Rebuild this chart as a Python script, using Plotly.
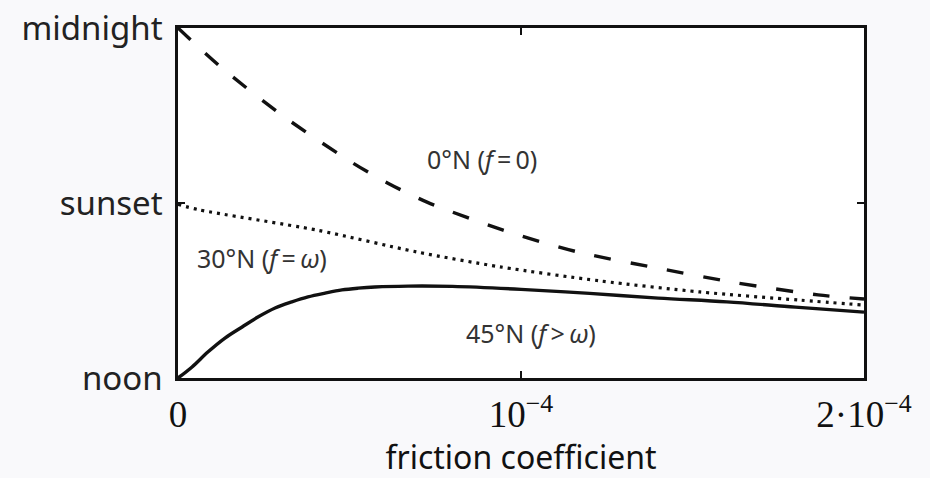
import plotly.graph_objects as go

# Friction coefficient in units of 1e-4 (converted when plotting)
fric_dash = [0.0, 0.128, 0.315, 0.510, 0.612, 0.726, 0.948, 1.166, 1.397, 1.630, 1.866, 2.0]
phase_0N = [12.0, 10.63, 8.91, 7.37, 6.68, 6.03, 5.07, 4.32, 3.77, 3.26, 2.85, 2.71]

fric_dot = [0.0, 0.064, 0.405, 0.697, 0.939, 1.230, 1.522, 1.813, 2.0]
phase_30N = [5.95, 5.76, 5.07, 4.32, 3.81, 3.33, 2.95, 2.67, 2.50]

fric_solid = [0.0, 0.041, 0.087, 0.137, 0.187, 0.233, 0.283, 0.332, 0.379, 0.429, 0.478,
              0.525, 0.574, 0.671, 0.8, 1.0, 1.2, 1.4, 1.6, 1.8, 2.0]
phase_45N = [0.0, 0.38, 0.89, 1.37, 1.75, 2.09, 2.40, 2.61, 2.78, 2.91, 3.02,
             3.08, 3.12, 3.15, 3.14, 3.04, 2.90, 2.74, 2.61, 2.43, 2.26]

# Phase of the response, hours after noon
y_tickvals = [0, 6, 12]
y_ticktext = ["noon", "sunset", "midnight"]
x_tickvals = [0, 1e-4, 2e-4]
x_ticktext = ["0", "10<sup>\u22124</sup>", "2\u00b710<sup>\u22124</sup>"]

scale = 1e-4
fig = go.Figure()
fig.add_trace(go.Scatter(
    x=[v * scale for v in fric_dash], y=phase_0N, mode="lines",
    line=dict(color="#111", width=3.4, dash="17px,20px", shape="spline", smoothing=0.8),
))
fig.add_trace(go.Scatter(
    x=[v * scale for v in fric_dot], y=phase_30N, mode="lines",
    line=dict(color="#111", width=3.2, dash="3px,5px", shape="spline", smoothing=0.8),
))
fig.add_trace(go.Scatter(
    x=[v * scale for v in fric_solid], y=phase_45N, mode="lines",
    line=dict(color="#111", width=3.4, shape="spline", smoothing=1.0),
))

label_font = dict(family="Noto Sans, Open Sans, sans-serif", size=25, color="#333")
fig.add_annotation(x=0.886e-4, y=7.5, text="0\u00b0N (<i>f</i>\u2009=\u20090)",
                   showarrow=False, font=label_font)
fig.add_annotation(x=0.245e-4, y=4.1, text="30\u00b0N (<i>f</i>\u2009=\u2009<i>\u03c9</i>)",
                   showarrow=False, font=label_font)
fig.add_annotation(x=1.03e-4, y=1.54, text="45\u00b0N (<i>f</i>\u2009&gt;\u2009<i>\u03c9</i>)",
                   showarrow=False, font=label_font)

axis_common = dict(
    showline=True, linecolor="#111", linewidth=2.5, mirror="ticks",
    ticks="inside", ticklen=7, tickwidth=2, tickcolor="#111",
    showgrid=False, zeroline=False, automargin=False,
)
fig.update_xaxes(
    range=[0, 2e-4], tickvals=x_tickvals, ticktext=x_ticktext,
    tickfont=dict(family="Liberation Serif, serif", size=37, color="#111"),
    ticklabelstandoff=2,
    title=dict(text="friction coefficient", standoff=6,
               font=dict(family="Noto Sans, sans-serif", size=32, color="#111")),
    **axis_common,
)
fig.update_yaxes(
    range=[0, 12], tickvals=y_tickvals, ticktext=y_ticktext,
    tickfont=dict(family="Noto Sans, sans-serif", size=33, color="#222"),
    ticklabelstandoff=6,
    **axis_common,
)
fig.update_layout(
    width=930, height=478, showlegend=False,
    margin=dict(l=178, r=66, t=28, b=100),
    paper_bgcolor="#f9f9fb", plot_bgcolor="#ffffff",
)
fig.write_html("out.html")
